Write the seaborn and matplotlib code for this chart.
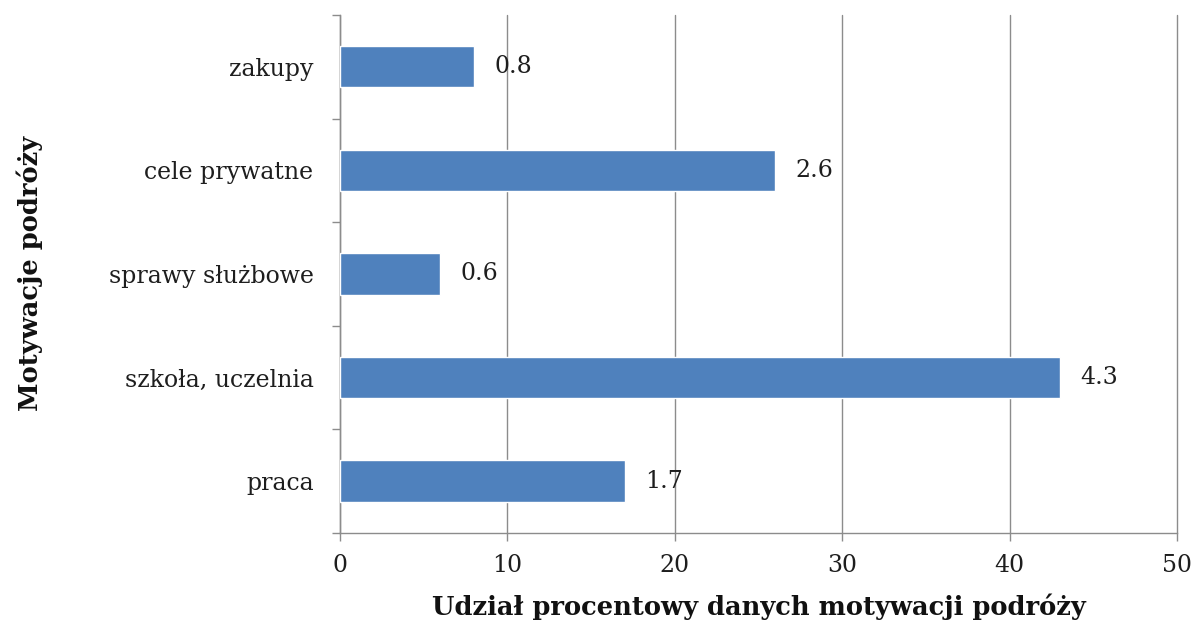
import matplotlib
matplotlib.use("Agg")
import matplotlib.pyplot as plt
from matplotlib.ticker import FuncFormatter, FixedLocator
import seaborn as sns
import pandas as pd

categories = ["zakupy", "cele prywatne", "sprawy służbowe", "szkoła, uczelnia", "praca"]
values = [0.8, 2.6, 0.6, 4.3, 1.7]
x_ticks = [0, 1, 2, 3, 4, 5]

df = pd.DataFrame({"motywacja": categories, "udzial": values})

sns.set_theme(style="white")
plt.rcParams["font.family"] = ["DejaVu Serif", "DejaVu Sans"]

fig = plt.figure(figsize=(11.95, 6.24), dpi=100)
ax = fig.add_axes([0.2845, 0.146, 0.7005, 0.830])

sns.barplot(data=df, x="udzial", y="motywacja", order=categories,
            color="#4F81BD", saturation=1, width=0.4, orient="h", ax=ax, zorder=3)

ax.set_xlim(0, 5)
ax.set_ylim(len(categories) - 0.5, -0.5)
ax.xaxis.set_major_locator(FixedLocator(x_ticks))
ax.xaxis.set_major_formatter(FuncFormatter(lambda v, p: f"{v * 10:g}"))
ax.grid(axis="x", color="#8c8c8c", linewidth=1.0, zorder=0)
ax.grid(axis="y", visible=False)
for gl in ax.get_xgridlines():
    gl.set_clip_on(False)

for s in ["top", "right"]:
    ax.spines[s].set_visible(False)
for s in ["left", "bottom"]:
    ax.spines[s].set_visible(True)
    ax.spines[s].set_color("#8c8c8c")
    ax.spines[s].set_linewidth(1.0)

# category ticks sit between bars
ax.yaxis.set_minor_locator(FixedLocator([i - 0.5 for i in range(len(categories) + 1)]))
ax.tick_params(axis="y", which="major", length=0, pad=19, labelsize=17, labelcolor="#1e1e1e")
ax.tick_params(axis="y", which="minor", length=6, width=1.0, color="#8c8c8c", left=True)
ax.tick_params(axis="x", which="major", length=6, width=1.0, color="#8c8c8c", bottom=True,
               pad=9, labelsize=17, labelcolor="#1e1e1e")

for i, v in enumerate(values):
    ax.text(v + 0.12, i, f"{v:g}", va="center", ha="left", fontsize=17, color="#1e1e1e")

ax.set_xlabel("Udział procentowy danych motywacji podróży", fontsize=18.5, fontweight="bold",
              color="#111111", labelpad=12)
ax.set_ylabel("Motywacje podróży", fontsize=18.5, fontweight="bold", color="#111111")
ax.yaxis.set_label_coords(-0.355, 0.5)

fig.savefig("out.png", dpi=100, facecolor="white")
